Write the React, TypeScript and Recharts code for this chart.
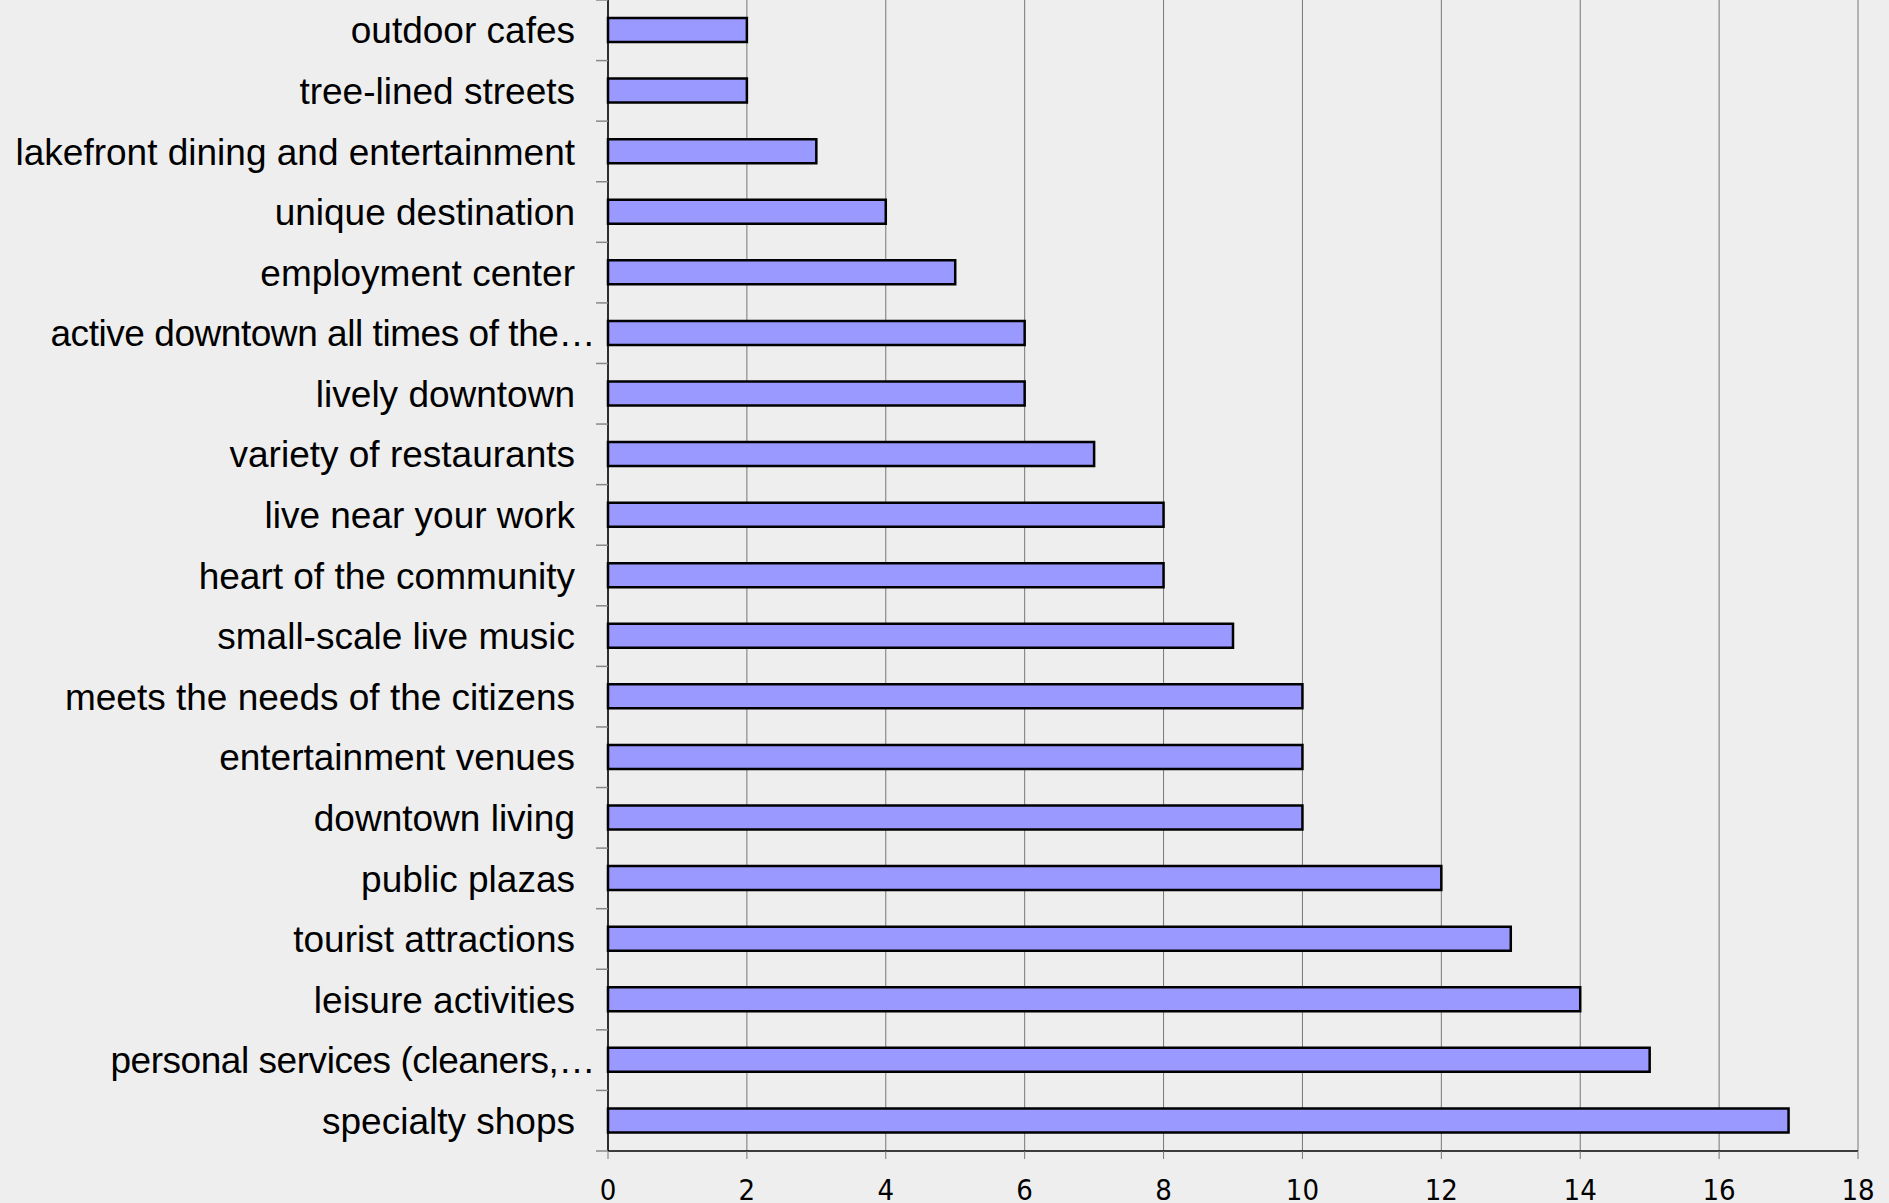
import React from 'react'
import { BarChart, Bar, XAxis, YAxis, CartesianGrid } from 'recharts'

const categories = [
  'outdoor cafes',
  'tree-lined streets',
  'lakefront dining and entertainment',
  'unique destination',
  'employment center',
  'active downtown all times of the…',
  'lively downtown',
  'variety of restaurants',
  'live near your work',
  'heart of the community',
  'small-scale live music',
  'meets the needs of the citizens',
  'entertainment venues',
  'downtown living',
  'public plazas',
  'tourist attractions',
  'leisure activities',
  'personal services (cleaners,…',
  'specialty shops',
]

const counts = [2, 2, 3, 4, 5, 6, 6, 7, 8, 8, 9, 10, 10, 10, 12, 13, 14, 15, 17]

const xTicks = [0, 2, 4, 6, 8, 10, 12, 14, 16, 18]

const data = categories.map((name, i) => ({ name, value: counts[i] }))

const WIDTH = 1889
const PLOT_BOTTOM = 1151
const X_AXIS_H = 60
const HEIGHT = PLOT_BOTTOM + X_AXIS_H
const Y_AXIS_W = 608
const BAND = PLOT_BOTTOM / categories.length

function CategoryTick(props: any) {
  const { y, payload, index } = props
  const label: string = payload.value
  const truncated = label.endsWith('…')
  const axisX = Y_AXIS_W
  return (
    <g>
      <line x1={axisX - 12} x2={axisX} y1={y - BAND / 2} y2={y - BAND / 2} stroke="#888" strokeWidth={1.5} />
      {index === categories.length - 1 && (
        <line x1={axisX - 12} x2={axisX} y1={y + BAND / 2} y2={y + BAND / 2} stroke="#888" strokeWidth={1.5} />
      )}
      <text
        x={truncated ? axisX - 13 : axisX - 33}
        y={y}
        dy="0.355em"
        textAnchor="end"
        fill="#000"
        fontSize={37}
        letterSpacing={truncated ? -0.45 : 0}
        fontFamily="'Liberation Sans', Arial, sans-serif"
      >
        {label}
      </text>
    </g>
  )
}

export default function App() {
  return (
    <div
      style={{
        position: 'absolute',
        top: 0,
        left: 0,
        width: WIDTH,
        height: 1203,
        background: '#eeeeee',
        overflow: 'hidden',
      }}
    >
      <BarChart
        width={WIDTH}
        height={HEIGHT}
        data={data}
        layout="vertical"
        margin={{ top: 0, right: 31, bottom: 0, left: 0 }}
        barCategoryGap={0}
      >
        <CartesianGrid horizontal={false} stroke="#777" strokeWidth={1} />
        <XAxis
          type="number"
          domain={[0, 18]}
          ticks={xTicks}
          interval={0}
          height={X_AXIS_H}
          axisLine={{ stroke: '#000', strokeWidth: 1.5 }}
          tickLine={{ stroke: '#777' }}
          tickSize={8}
          tickMargin={20}
          tick={{ fill: '#000', fontSize: 29, fontFamily: "'Liberation Sans Narrow', 'DejaVu Sans Condensed', sans-serif" }}
        />
        <YAxis
          type="category"
          dataKey="name"
          width={Y_AXIS_W}
          interval={0}
          axisLine={{ stroke: '#000', strokeWidth: 1.5 }}
          tickLine={false}
          tick={<CategoryTick />}
        />
        <Bar
          dataKey="value"
          fill="#9999ff"
          stroke="#000"
          strokeWidth={2.5}
          barSize={24}
          isAnimationActive={false}
        />
      </BarChart>
    </div>
  )
}
